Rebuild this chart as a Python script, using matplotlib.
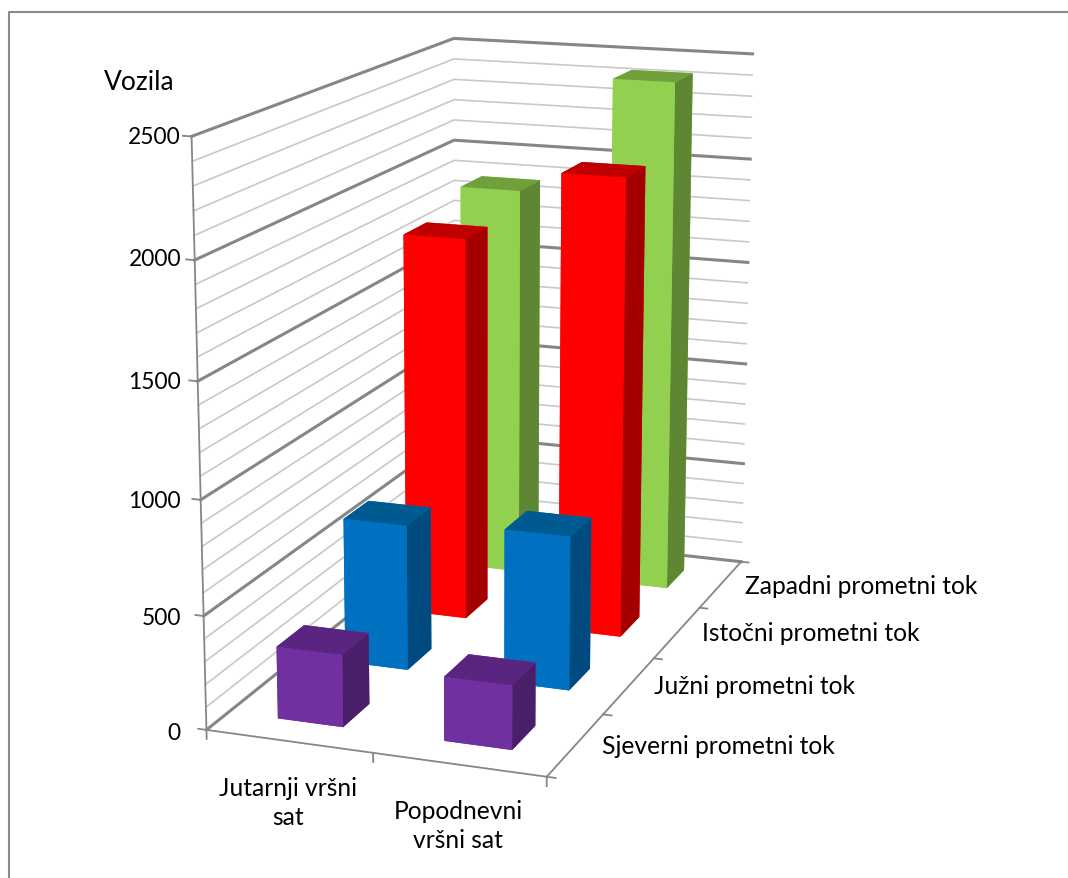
import numpy as np
import matplotlib
matplotlib.use('Agg')
import matplotlib.pyplot as plt
from matplotlib.lines import Line2D

plt.rcParams['font.family'] = ['Lato', 'DejaVu Sans']

# --- DATA ---
hours = ['Jutarnji vršni\nsat', 'Popodnevni\nvršni sat']
flows = ['Sjeverni prometni tok', 'Južni prometni tok', 'Istočni prometni tok', 'Zapadni prometni tok']
jutarnji = [319, 663, 1789, 1875]
popodnevni = [280, 695, 2118, 2429]
z_ticks = [0, 500, 1000, 1500, 2000, 2500]
z_title = 'Vozila'

# --- STYLE ---
W, H = 1068, 879
FONT = 17.7
face = ['#7030A0', '#0070C0', '#FF0000', '#92D050']
top = ['#5A2580', '#005A92', '#C00000', '#70A03C']
side = ['#4A1F6A', '#004A7F', '#A50000', '#5F8632']
MAJOR = '#868686'
MINOR = '#C8C8C8'

# camera fitted to the reference
ELEV, AZIM, ROLL, FOCAL = 14.430, -70.146, -0.047, 0.6046
ASPECT = (1, 1.9629, 1.6699)
S, TX, TY = 4906.7, 495.76, 372.8
BAR_W, BAR_D = 0.397, 0.394

fig = plt.figure(figsize=(W / 100, H / 100), dpi=100)
ax = fig.add_axes([0, 0, 1, 1], projection='3d', computed_zorder=False)
ax.set_axis_off()
ax.view_init(ELEV, AZIM, ROLL)
ax.set_proj_type('persp', focal_length=FOCAL)
ax.set_box_aspect(ASPECT)
ax.set_position([(TX + S * ax.viewLim.x0) / W, (H - TY + S * ax.viewLim.y0) / H,
                 S * ax.viewLim.width / W, S * ax.viewLim.width / H])

# walls: minor lines every 100, major every 500
for z in range(0, 2600, 100):
    major = z % 500 == 0
    ax.plot([0, 0, 2], [0, 4, 4], [z, z, z], color=MAJOR if major else MINOR, lw=2.2 if major else 1.2, zorder=2)

# axis lines and tick marks
ax.plot([0, 2, 2], [0, 0, 4], [0, 0, 0], color=MAJOR, lw=1.3, zorder=3)
ax.plot([0, 0], [0, 0], [0, 2500], color=MAJOR, lw=1.3, zorder=3)
for z in z_ticks:
    ax.plot([0, -0.05], [0, 0], [z, z], color=MAJOR, lw=1.3, zorder=3)
for x in range(3):
    ax.plot([x, x], [0, 0], [0, -40], color=MAJOR, lw=1.3, zorder=3)
for y in range(5):
    ax.plot([2, 2.05], [y, y], [0, 0], color=MAJOR, lw=1.3, zorder=3)

# bars, back to front
zo = 10
for j in range(3, -1, -1):
    for i, series in enumerate([jutarnji, popodnevni]):
        ax.bar3d(i + .5 - BAR_W / 2, j + .5 - BAR_D / 2, 0, BAR_W, BAR_D, series[j],
                 color=[face[j], top[j], face[j], face[j], face[j], side[j]],
                 shade=False, zorder=zo, linewidth=0)
        zo += 1
ax.set_xlim(0, 2)
ax.set_ylim(0, 4)
ax.set_zlim(0, 2500)

def label(px, py, s, size=FONT, **kw):
    fig.text(px / W, 1 - py / H, s, fontsize=size, color='black', va='center', **kw)

label(104, 83, z_title, size=19)
for z, py in zip(z_ticks, [734, 619, 502, 383, 260, 138]):
    label(181, py, str(z), size=16.4, ha='right')
for s, px, py in zip(hours, [288, 458], [803, 826]):
    label(px, py, s, ha='center', linespacing=1.35)
for s, px, py in zip(flows, [602, 654, 702, 745], [747, 687, 634, 587]):
    label(px, py, s)

# chart area frame, cut off by the screenshot
fig.add_artist(Line2D([9 / W, 9 / W, 1], [0, 1 - 13 / H, 1 - 13 / H], color='#8A8A8A', lw=1.5))

fig.savefig('out.png', dpi=100)
